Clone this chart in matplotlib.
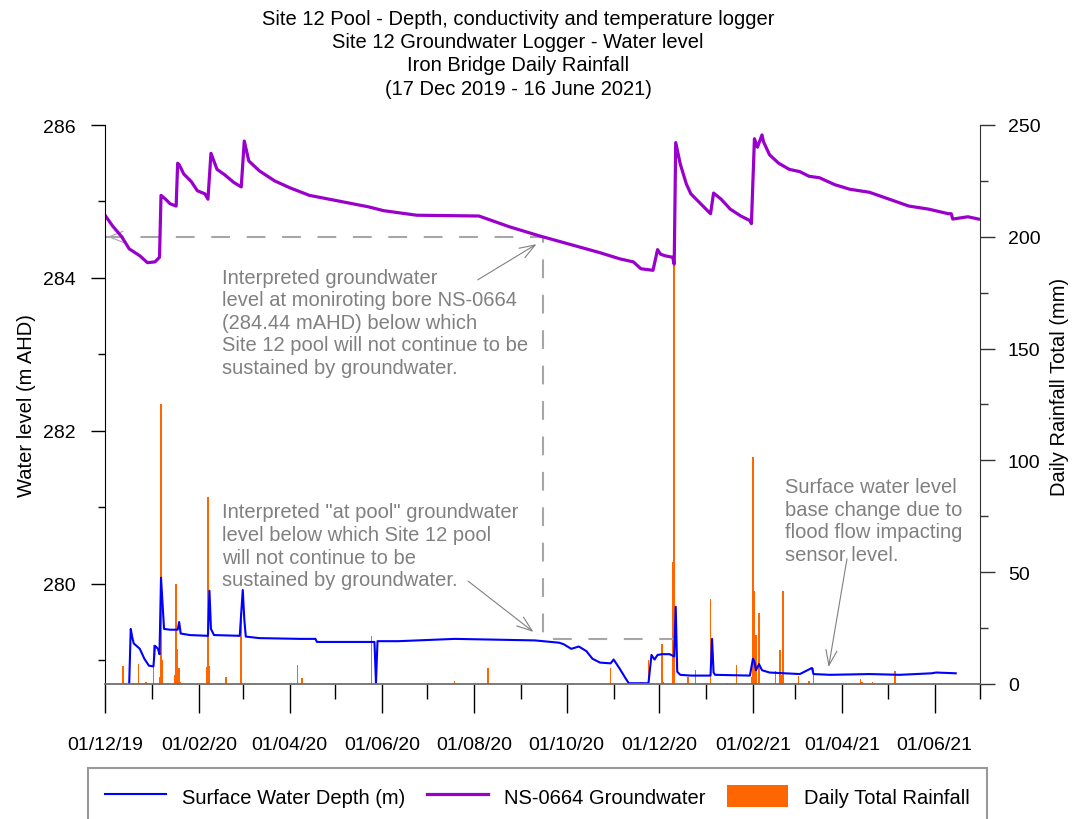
import numpy as np
import pandas as pd
import matplotlib
matplotlib.use('Agg')
import matplotlib.pyplot as plt
import matplotlib.dates as mdates
from matplotlib.ticker import MultipleLocator

plt.rcParams['font.family'] = ['Liberation Sans', 'DejaVu Sans']

# NS-0664 groundwater level (m AHD)
gw_dates = ['2019-12-01', '2019-12-06', '2019-12-12', '2019-12-17', '2019-12-24', '2019-12-29',
            '2020-01-03', '2020-01-06', '2020-01-07', '2020-01-10', '2020-01-13', '2020-01-17',
            '2020-01-18', '2020-01-19', '2020-01-22', '2020-01-27', '2020-01-31', '2020-02-05',
            '2020-02-07', '2020-02-09', '2020-02-13', '2020-02-18', '2020-02-24', '2020-02-29',
            '2020-03-02', '2020-03-05', '2020-03-12', '2020-03-22', '2020-04-01', '2020-04-14',
            '2020-04-27', '2020-05-10', '2020-05-23', '2020-06-02', '2020-06-24', '2020-08-04',
            '2020-08-24', '2020-09-13', '2020-10-03', '2020-10-23', '2020-11-05', '2020-11-14',
            '2020-11-19', '2020-11-27', '2020-11-30', '2020-12-02', '2020-12-05', '2020-12-10',
            '2020-12-11', '2020-12-12', '2020-12-15', '2020-12-19', '2020-12-22', '2020-12-27',
            '2021-01-01', '2021-01-04', '2021-01-06', '2021-01-11', '2021-01-17', '2021-01-24',
            '2021-01-30', '2021-01-31', '2021-02-02', '2021-02-04', '2021-02-07', '2021-02-08',
            '2021-02-12', '2021-02-18', '2021-02-25', '2021-03-04', '2021-03-10', '2021-03-17',
            '2021-03-27', '2021-04-06', '2021-04-19', '2021-05-02', '2021-05-15', '2021-05-28',
            '2021-06-10', '2021-06-12', '2021-06-13', '2021-06-23', '2021-06-30']
gw_level = [284.82, 284.68, 284.54, 284.38, 284.29, 284.20,
            284.21, 284.27, 285.08, 285.03, 284.97, 284.94,
            285.50, 285.48, 285.36, 285.26, 285.14, 285.10,
            285.03, 285.63, 285.42, 285.35, 285.25, 285.19,
            285.79, 285.53, 285.40, 285.27, 285.18, 285.08,
            285.03, 284.98, 284.93, 284.88, 284.82, 284.81,
            284.67, 284.55, 284.44, 284.33, 284.25, 284.21,
            284.12, 284.10, 284.37, 284.31, 284.29, 284.27,
            284.18, 285.77, 285.49, 285.23, 285.10, 285.00,
            284.90, 284.84, 285.11, 285.03, 284.90, 284.81,
            284.75, 284.71, 285.82, 285.71, 285.87, 285.78,
            285.61, 285.50, 285.42, 285.39, 285.33, 285.31,
            285.22, 285.16, 285.12, 285.03, 284.94, 284.90,
            284.84, 284.84, 284.77, 284.80, 284.77]

# Site 12 pool surface water (m AHD)
sw_dates = ['2019-12-17', '2019-12-18', '2019-12-19', '2019-12-20', '2019-12-24', '2019-12-27',
            '2019-12-30', '2020-01-02', '2020-01-03', '2020-01-05', '2020-01-06', '2020-01-07',
            '2020-01-09', '2020-01-13', '2020-01-18', '2020-01-19', '2020-01-20', '2020-01-26',
            '2020-02-07', '2020-02-08', '2020-02-09', '2020-02-11', '2020-02-28', '2020-03-01',
            '2020-03-02', '2020-03-03', '2020-03-12', '2020-04-08', '2020-04-18', '2020-04-19',
            '2020-05-10', '2020-05-27', '2020-05-28', '2020-05-29', '2020-06-12', '2020-07-19',
            '2020-09-10', '2020-09-26', '2020-09-29', '2020-10-04', '2020-10-09', '2020-10-14',
            '2020-10-18', '2020-10-23', '2020-10-30', '2020-11-01', '2020-11-05', '2020-11-09',
            '2020-11-11', '2020-11-24', '2020-11-26', '2020-11-28', '2020-11-30', '2020-12-03',
            '2020-12-08', '2020-12-11', '2020-12-12', '2020-12-13', '2020-12-15', '2020-12-22',
            '2021-01-04', '2021-01-05', '2021-01-06', '2021-01-07', '2021-01-30', '2021-02-01',
            '2021-02-02', '2021-02-03', '2021-02-05', '2021-02-07', '2021-02-12', '2021-03-04',
            '2021-03-12', '2021-03-13', '2021-03-24', '2021-04-19', '2021-05-09', '2021-05-30',
            '2021-06-02', '2021-06-15']
sw_depth = [278.70, 279.41, 279.30, 279.22, 279.15, 279.02,
            278.93, 278.92, 279.19, 279.15, 279.08, 280.08,
            279.41, 279.40, 279.40, 279.50, 279.35, 279.33,
            279.32, 279.91, 279.41, 279.33, 279.32, 279.92,
            279.54, 279.31, 279.29, 279.28, 279.28, 279.24,
            279.24, 279.24, 278.70, 279.25, 279.25, 279.28,
            279.26, 279.23, 279.21, 279.15, 279.18, 279.12,
            279.02, 278.97, 278.96, 279.01, 278.89, 278.76,
            278.70, 278.70, 279.07, 279.01, 279.07, 279.08,
            279.08, 279.05, 279.70, 278.85, 278.81, 278.80,
            278.80, 279.28, 278.84, 278.81, 278.80, 279.02,
            278.98, 278.87, 278.95, 278.87, 278.84, 278.82,
            278.90, 278.82, 278.81, 278.82, 278.81, 278.83,
            278.84, 278.83]

# Iron Bridge daily rainfall (mm)
rain_dates = ['2019-12-13', '2019-12-23', '2019-12-28', '2020-01-02', '2020-01-06', '2020-01-07',
              '2020-01-08', '2020-01-16', '2020-01-17', '2020-01-18', '2020-01-19', '2020-01-20',
              '2020-02-06', '2020-02-07', '2020-02-08', '2020-02-15', '2020-02-19', '2020-02-29',
              '2020-04-06', '2020-04-09', '2020-05-25', '2020-07-19', '2020-08-10', '2020-10-30',
              '2020-11-19', '2020-11-24', '2020-12-03', '2020-12-04', '2020-12-10', '2020-12-11',
              '2020-12-20', '2020-12-25', '2020-12-29', '2021-01-04', '2021-01-15', '2021-01-21',
              '2021-01-31', '2021-02-01', '2021-02-02', '2021-02-03', '2021-02-05', '2021-02-16',
              '2021-02-19', '2021-02-20', '2021-02-21', '2021-03-03', '2021-03-10', '2021-03-13',
              '2021-04-13', '2021-04-14', '2021-04-21', '2021-05-06']
rain_mm = [8.2, 9, 1, 17.6, 3, 125,
           10.8, 4, 44.8, 15.7, 7, 1,
           7.6, 83.8, 8, 0.5, 3.3, 31.7,
           8.5, 2.7, 21.6, 1.3, 7, 7.2,
           1, 10.8, 18, 1, 54.6, 188,
           3, 6.4, 0.5, 38, 0.5, 8.5,
           3, 101.6, 41.4, 22, 31.8, 6,
           15, 4, 41.8, 3.7, 1.5, 7,
           2.2, 1, 1, 6]

# interpreted thresholds (drawn on the rainfall axis scale)
gw_thresh_mm = 200
pool_thresh_mm = 20
thresh_dates = ['2019-12-01', '2020-09-15', '2020-09-15', '2020-12-12']

title = ("Site 12 Pool - Depth, conductivity and temperature logger\n"
         "Site 12 Groundwater Logger - Water level\n"
         "Iron Bridge Daily Rainfall\n"
         "(17 Dec 2019 - 16 June 2021)")

grey = '#808080'

fig = plt.figure(figsize=(10.81, 8.2), dpi=100)
ax = fig.add_axes([105/1081, 1 - 685/820, 875/1081, 559/820])
ax2 = ax.twinx()

ax2.bar(pd.to_datetime(rain_dates), rain_mm, width=1.0, color='#FF6600',
        label='Daily Total Rainfall')
ax.plot(pd.to_datetime(sw_dates), sw_depth, color='#0000FF', lw=1.5,
        label='Surface Water Depth (m)')
ax.plot(pd.to_datetime(gw_dates), gw_level, color='#9900CC', lw=2.3,
        label='NS-0664 Groundwater')
ax.set_zorder(ax2.get_zorder() + 1)
ax.patch.set_visible(False)

ax.set_xlim(pd.Timestamp('2019-12-01'), pd.Timestamp('2021-07-01'))
ax.set_ylim(278.69, 286)
ax2.set_ylim(0, 250)

# threshold dashed lines
td = pd.to_datetime(thresh_dates)
ax.plot(td, [gw_thresh_mm, gw_thresh_mm, pool_thresh_mm, pool_thresh_mm],
        transform=ax2.transData, color='#a6a6a6', lw=1.5, dashes=(9, 8), zorder=1)
ax2.annotate('', xy=(td[0], gw_thresh_mm), xytext=(td[0] + pd.Timedelta(days=10), gw_thresh_mm),
             arrowprops=dict(arrowstyle='->,head_length=1.0,head_width=0.4', color='#a6a6a6', lw=0.8))

# annotations
arrow = dict(arrowstyle='->,head_length=1.1,head_width=0.4', color=grey, lw=0.8, shrinkA=0, shrinkB=0)
note_kw = dict(transform=ax.transAxes, ha='left', va='top', color=grey, fontsize=14.5, linespacing=1.24)
ax.text(0.134, 0.745, "Interpreted groundwater\nlevel at moniroting bore NS-0664\n"
        "(284.44 mAHD) below which\nSite 12 pool will not continue to be\nsustained by groundwater.",
        **note_kw)
ax2.annotate('', xy=(pd.Timestamp('2020-09-11'), 196.7), xytext=(0.426, 0.723),
             textcoords='axes fraction', arrowprops=arrow)
ax.text(0.134, 0.325, "Interpreted \"at pool\" groundwater\nlevel below which Site 12 pool\n"
        "will not continue to be\nsustained by groundwater.", **note_kw)
ax2.annotate('', xy=(pd.Timestamp('2020-09-09'), 23.3), xytext=(0.415, 0.184),
             textcoords='axes fraction', arrowprops=arrow)
ax.text(0.777, 0.370, "Surface water level\nbase change due to\nflood flow impacting\nsensor level.",
        **note_kw)
ax2.annotate('', xy=(pd.Timestamp('2021-03-23'), 7.6), xytext=(0.848, 0.224),
             textcoords='axes fraction', arrowprops=arrow)

# axes styling
for s in ['top', 'right']:
    ax.spines[s].set_visible(False)
for s in ['top', 'left', 'bottom']:
    ax2.spines[s].set_visible(False)
ax.spines['bottom'].set_color('#6e6e6e')
ax.spines['bottom'].set_linewidth(1.3)
ax.spines['left'].set_color('black')
ax2.spines['right'].set_color('#333333')

ax.xaxis.set_major_locator(mdates.MonthLocator(bymonth=[2, 4, 6, 8, 10, 12]))
ax.xaxis.set_minor_locator(mdates.MonthLocator(bymonth=[1, 3, 5, 7, 9, 11]))
ax.xaxis.set_major_formatter(mdates.DateFormatter('%d/%m/%y'))
ax.yaxis.set_major_locator(MultipleLocator(2))
ax.yaxis.set_minor_locator(MultipleLocator(1))
ax2.yaxis.set_major_locator(MultipleLocator(50))
ax2.yaxis.set_minor_locator(MultipleLocator(25))

ax.tick_params(axis='x', which='major', length=21, width=1.0, color='black', pad=16.5, labelsize=14)
ax.tick_params(axis='x', which='minor', length=11, width=1.0, color='black')
ax.tick_params(axis='y', which='major', length=10, width=1.0, pad=11, labelsize=14)
ax.tick_params(axis='y', which='minor', length=5, width=1.0)
ax2.tick_params(axis='y', which='major', length=11, width=1.0, color='#333333', pad=9, labelsize=14)
ax2.tick_params(axis='y', which='minor', length=6, width=1.0, color='#333333')

ax.set_ylabel('Water level (m AHD)', fontsize=14.5)
ax.yaxis.set_label_coords(-0.079, 0.5)
ax2.set_ylabel('Daily Rainfall Total (mm)', fontsize=14.5)
ax2.yaxis.set_label_coords(1.08, 0.533)

fig.text(518/1081, 1 - 10/820, title, ha='center', va='top', fontsize=14.5, linespacing=1.28)

h1, l1 = ax.get_legend_handles_labels()
h2, l2 = ax2.get_legend_handles_labels()
leg = fig.legend(h1 + h2, l1 + l2, loc='upper center', bbox_to_anchor=(537.5/1081, 1 - 769/820),
                 ncol=3, fontsize=14.5, frameon=True, fancybox=False, edgecolor=grey,
                 handlelength=3.0, handleheight=1.3, handletextpad=0.8, columnspacing=1.1,
                 borderpad=0.85, borderaxespad=0)
leg.get_frame().set_linewidth(1.5)

fig.savefig('out.png', dpi=100)
